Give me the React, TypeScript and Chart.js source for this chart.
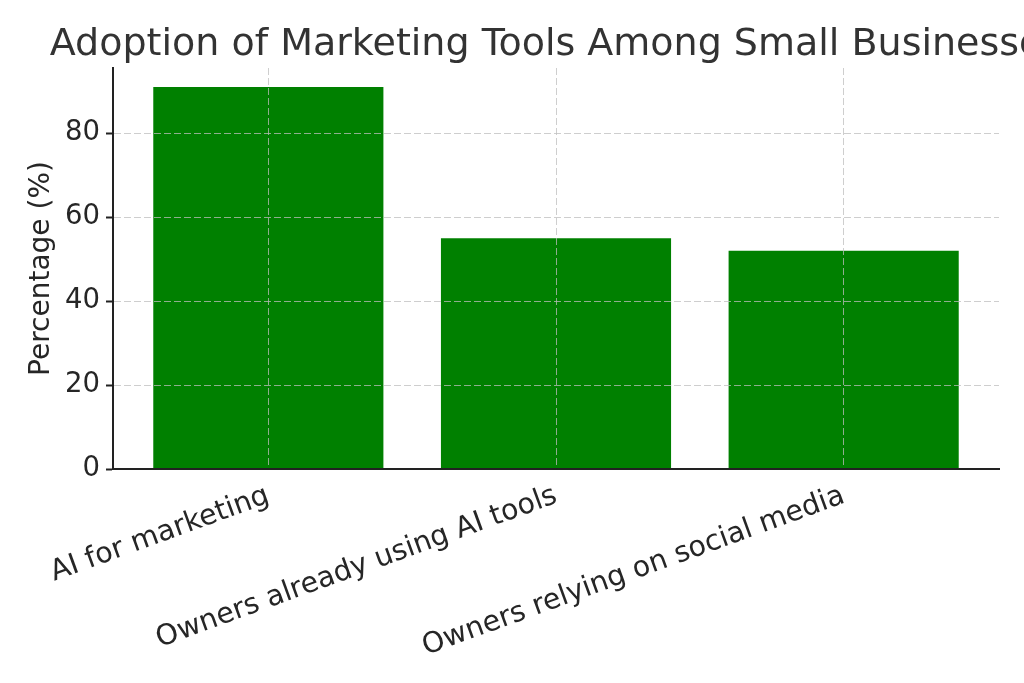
import React, { useEffect, useRef } from 'react';
import Chart from 'chart.js/auto';

const categories = ['AI for marketing', 'Owners already using AI tools', 'Owners relying on social media'];
const percentages = [91, 55, 52];
const yTicks = [0, 20, 40, 60, 80];

const TITLE = 'Adoption of Marketing Tools Among Small Businesses';
const FONT = 'DejaVu Sans';

// title centred over the plot area (not the canvas), like the original
const titlePlugin = {
  id: 'areaTitle',
  afterDraw(chart: Chart) {
    const { ctx, chartArea } = chart;
    ctx.save();
    ctx.font = `38px "${FONT}"`;
    ctx.fillStyle = '#333333';
    ctx.textAlign = 'center';
    ctx.textBaseline = 'alphabetic';
    ctx.fillText(TITLE, (chartArea.left + chartArea.right) / 2, 55);
    ctx.restore();
  }
};

const App: React.FC = () => {
  const canvasRef = useRef<HTMLCanvasElement | null>(null);
  const chartInstance = useRef<Chart | null>(null);

  useEffect(() => {
    if (!canvasRef.current) return;
    if (chartInstance.current) chartInstance.current.destroy();

    const ctx = canvasRef.current.getContext('2d');
    if (!ctx) return;

    const gridColor = 'rgba(190, 190, 190, 0.75)';

    chartInstance.current = new Chart(ctx, {
      type: 'bar',
      data: {
        datasets: [{
          label: 'Percentage',
          data: percentages.map((v, i) => ({ x: i, y: v })),
          backgroundColor: '#008000',
          borderWidth: 0,
          barPercentage: 0.8,
          categoryPercentage: 1
        }]
      },
      plugins: [titlePlugin],
      options: {
        animation: false,
        responsive: false,
        maintainAspectRatio: false,
        layout: { padding: { top: 68, right: 25, left: 0, bottom: 0 } },
        plugins: {
          legend: { display: false },
          tooltip: { enabled: false },
          title: { display: false }
        },
        scales: {
          x: {
            type: 'linear',
            min: -0.54,
            max: 2.54,
            offset: false,
            z: 1,
            afterFit: (scale: any) => { scale.height = 214; },
            afterBuildTicks: (scale: any) => {
              scale.ticks = categories.map((_, i) => ({ value: i }));
            },
            grid: {
              offset: false,
              z: 1,
              color: gridColor,
              lineWidth: 1,
              drawTicks: false
            },
            border: { display: true, color: '#222222', width: 2, dash: [7, 3], z: 2 },
            ticks: {
              autoSkip: false,
              maxRotation: 20,
              minRotation: 20,
              padding: 10,
              color: '#262626',
              font: { family: FONT, size: 28.5 },
              callback: (value: any) => categories[value as number] ?? ''
            }
          },
          y: {
            min: 0,
            max: 95.55,
            z: 1,
            afterFit: (scale: any) => { scale.width = 113; },
            afterBuildTicks: (scale: any) => {
              scale.ticks = yTicks.map(v => ({ value: v }));
            },
            grid: {
              z: 1,
              color: gridColor,
              lineWidth: 1,
              tickColor: '#222222',
              tickWidth: 2,
              tickLength: 7,
              tickBorderDash: [],
              drawTicks: true
            },
            border: { display: true, color: '#222222', width: 2, dash: [7, 3], z: 2 },
            title: {
              display: true,
              text: 'Percentage (%)',
              color: '#262626',
              font: { family: FONT, size: 28 },
              padding: { top: 25, bottom: 0 }
            },
            ticks: {
              padding: 6,
              color: '#262626',
              font: { family: FONT, size: 27.5 }
            }
          }
        }
      }
    });

    return () => {
      if (chartInstance.current) {
        chartInstance.current.destroy();
        chartInstance.current = null;
      }
    };
  }, []);

  return (
    <div style={{ position: 'absolute', left: 0, top: 0, width: 1024, height: 683, background: '#fff' }}>
      <canvas ref={canvasRef} width={1024} height={683}></canvas>
    </div>
  );
};

export default App;
